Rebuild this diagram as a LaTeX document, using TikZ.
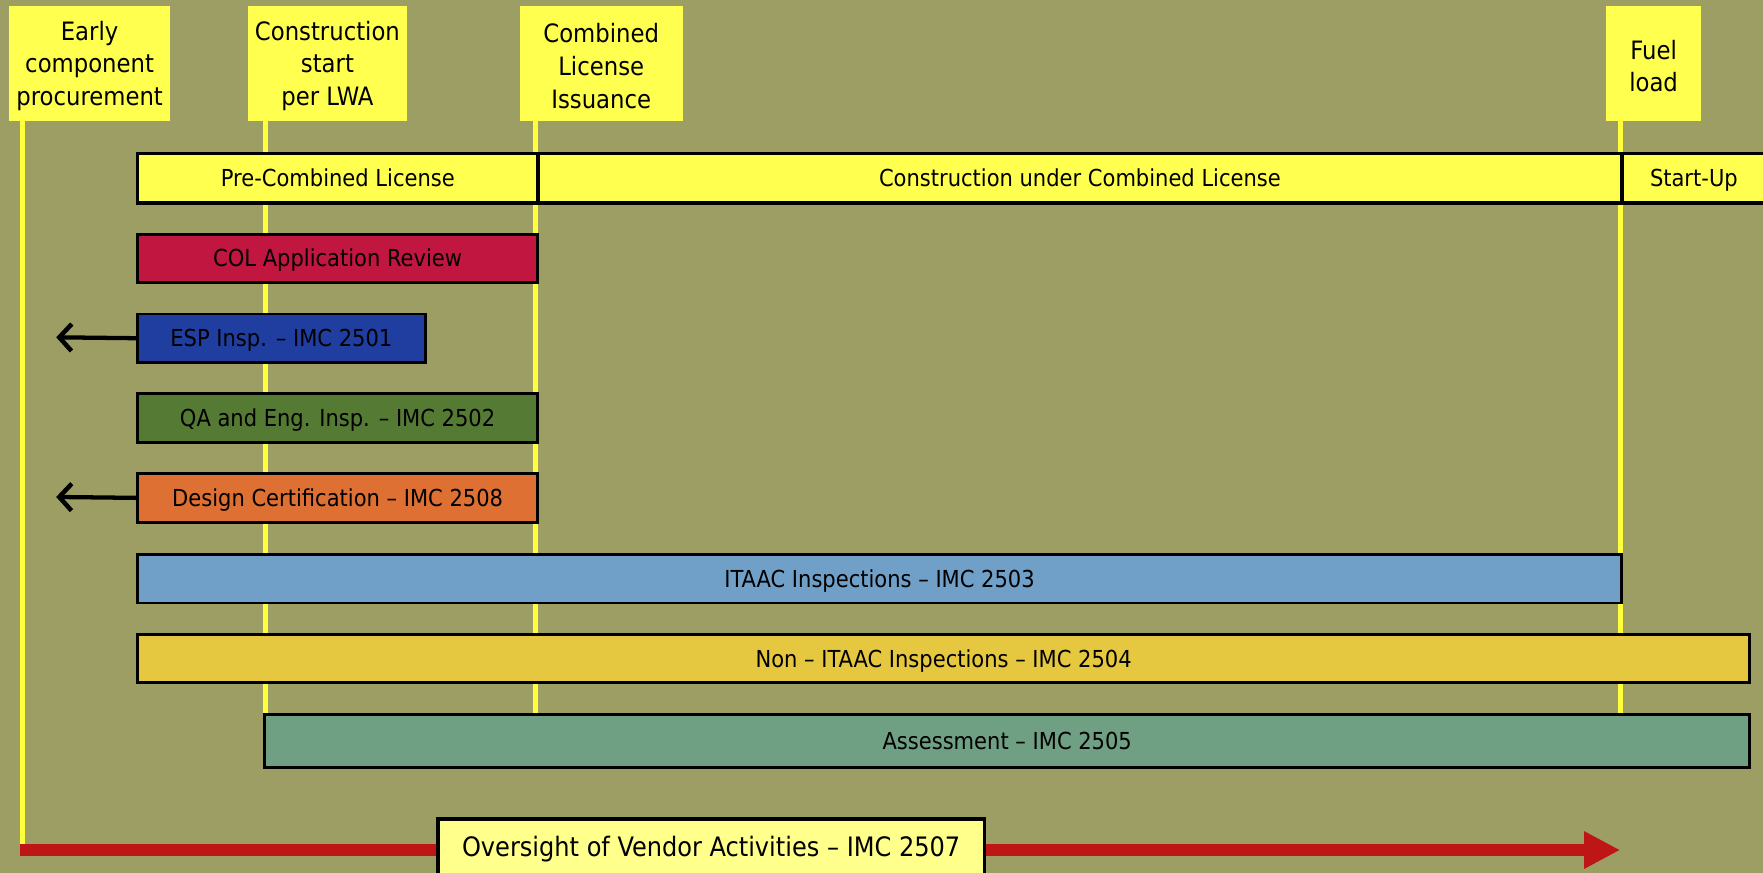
\documentclass[tikz,border=0pt]{standalone}
\usepackage{fontspec}
\setmainfont{DejaVu Sans Condensed}
\usetikzlibrary{arrows.meta}
\definecolor{bg}{RGB}{156,158,100}
\definecolor{hdryellow}{RGB}{255,255,80}
\definecolor{lineyellow}{RGB}{255,255,60}
\definecolor{cCOL}{RGB}{192,22,64}
\definecolor{cESP}{RGB}{32,62,160}
\definecolor{cQA}{RGB}{84,122,52}
\definecolor{cDC}{RGB}{222,112,52}
\definecolor{cITAAC}{RGB}{112,160,200}
\definecolor{cNON}{RGB}{230,200,64}
\definecolor{cASM}{RGB}{112,160,132}
\definecolor{cRED}{RGB}{190,22,22}
\definecolor{cOVS}{RGB}{255,255,140}
\tikzset{
 hdr/.style={fill=hdryellow, inner sep=0pt, anchor=north west},
 hdrtext/.style={inner sep=0pt, align=center, font=\fontsize{22.5}{29}\selectfont, text=black},
 bar/.style={draw=black, line width=2.6pt, inner sep=0pt, anchor=north west,
   font=\fontsize{20.8}{24}\selectfont, text=black, text height=18pt, text depth=3pt},
 topbar/.style={bar, fill=hdryellow, minimum height=44pt, line width=3pt},
 vline/.style={draw=lineyellow, line width=4.5pt},
 back/.style={-{Straight Barb[length=11pt,width=24pt,line width=4pt]}, line width=3.8pt, draw=black},
 redarrow/.style={draw=cRED, line width=11pt, -{Triangle[length=32pt,width=31pt]}},
}
\begin{document}
\begin{tikzpicture}[x=1pt,y=-1pt]
\fill[bg] (0,0) rectangle (1568,776);
\clip (0,0) rectangle (1568,776);
\useasboundingbox (0,0) rectangle (1568,776);

% milestone headers
\node[hdr, minimum width=143pt, minimum height=102pt] (early) at (8,5) {};
\node[hdr, minimum width=142pt, minimum height=102pt] (cstart) at (220,5) {};
\node[hdr, minimum width=145pt, minimum height=102pt] (coli) at (462,5) {};
\node[hdr, minimum width=85pt, minimum height=102pt] (fuel) at (1428,5) {};
\node[hdrtext] (earlyT) at ([yshift=-2.5pt]early.center) {Early\\component\\procurement};
\node[hdrtext] (cstartT) at ([yshift=-2.5pt]cstart.center) {Construction\\start\\per LWA};
\node[hdrtext] (coliT) at ([yshift=-2.5pt]coli.center) {Combined\\License\\Issuance};
\node[hdrtext] (fuelT) at ([yshift=-2.5pt]fuel.center) {Fuel\\load};

% milestone line end points
\coordinate (eTop) at (20,107);   \coordinate (eBot) at (20,757);
\coordinate (cTop) at (236,107);  \coordinate (cBot) at (236,634);
\coordinate (iTop) at (476,107);  \coordinate (iBot) at (476,634);
\coordinate (fTop) at (1441,107); \coordinate (fBot) at (1441,634);
\draw[vline] (eTop) -- (eBot);
\draw[vline] (cTop) -- (cBot);
\draw[vline] (iTop) -- (iBot);
\draw[vline] (fTop) -- (fBot);

% vendor oversight arrow
\coordinate (rStart) at (18,756);
\coordinate (rEnd) at (1441,756);
\draw[redarrow] (rStart) -- (rEnd);

% phase bar
\node[topbar, minimum width=356pt] (pre) at (121,135) {Pre-Combined License};
\node[topbar, minimum width=964pt] (cons) at (477,135) {Construction under Combined License};
\node[topbar, minimum width=140pt] (start) at (1441,135) {\hspace*{-12pt}Start-Up};

% activity bars
\node[bar, fill=cCOL, minimum width=356pt, minimum height=43pt] (col) at (121,207) {COL Application Review};
\node[bar, fill=cESP, minimum width=256pt, minimum height=43pt] (esp) at (121,278) {ESP Insp. -- IMC 2501};
\node[bar, fill=cQA, minimum width=356pt, minimum height=43pt] (qa) at (121,349) {QA and Eng. Insp. -- IMC 2502};
\node[bar, fill=cDC, minimum width=356pt, minimum height=43pt] (dc) at (121,420) {Design Certification -- IMC 2508};
\node[bar, fill=cITAAC, minimum width=1320pt, minimum height=43pt] (itaac) at (121,492) {ITAAC Inspections -- IMC 2503};
\node[bar, fill=cNON, minimum width=1434pt, minimum height=43pt] (non) at (121,563) {Non -- ITAAC Inspections -- IMC 2504};
\node[bar, fill=cASM, minimum width=1321pt, minimum height=47pt] (asm) at (234,634) {Assessment -- IMC 2505};

% backward arrows
\coordinate (espL) at (50,300);
\coordinate (dcL) at (50,442);
\draw[back] (esp.west) -- (espL);
\draw[back] (dc.west) -- (dcL);

% oversight label
\node[bar, fill=cOVS, line width=3pt, minimum width=486pt, minimum height=62pt,
  font=\fontsize{23.8}{27}\selectfont, text height=17pt, text depth=11.6pt] (ovs) at (388,727) {Oversight of Vendor Activities -- IMC 2507};
\end{tikzpicture}
\end{document}
